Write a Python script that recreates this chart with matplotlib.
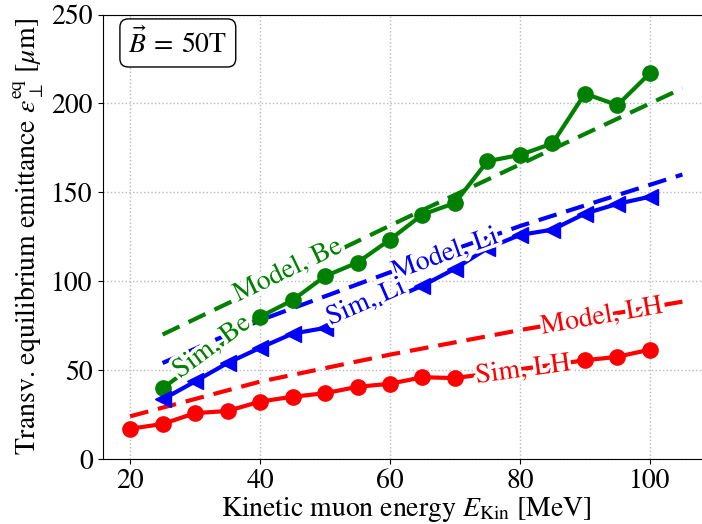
import numpy as np
import matplotlib
matplotlib.use("Agg")
import matplotlib.pyplot as plt
import matplotlib.patheffects as pe

plt.rcParams['font.family'] = 'STIXGeneral'
plt.rcParams['mathtext.fontset'] = 'stix'
plt.rcParams['font.size'] = 20

# Simulation, LH
e_lh = [20, 25, 30, 35, 40, 45, 50, 55, 60, 65, 70, 90, 95, 100]
sim_lh = [17, 19.7, 25.8, 27, 32.3, 35, 37, 40.6, 42.3, 46, 45.5, 55.5, 57.5, 61.5]
# Simulation, Li
e_li = [25, 30, 35, 40, 45, 50, 65, 70, 75, 80, 85, 90, 95, 100]
sim_li = [33.5, 43.6, 54, 62.5, 70.5, 73.7, 97.5, 107, 118.5, 126, 129, 138, 143.5, 147.5]
# Simulation, Be
e_be = [25, 40, 45, 50, 55, 60, 65, 70, 75, 80, 85, 90, 95, 100]
sim_be = [39.8, 80, 89.3, 102.8, 110.5, 123.4, 137.5, 144, 167.5, 171, 177.5, 205.5, 199, 217]

# Model curves
e_mod_lh = [20, 40, 60, 80, 105]
mod_lh = [24, 43.5, 58.7, 72.5, 88.5]
e_mod_li = [25, 40, 60, 80, 105]
mod_li = [54, 78, 105, 131, 160]
e_mod_be = [25, 65, 105]
mod_be = [70, 140, 208.5]

fig = plt.figure(figsize=(7.02, 5.24), dpi=100)
ax = fig.add_axes([102.5 / 702, 65 / 524, 607.5 / 702, 444.5 / 524])

ax.plot(e_mod_be, mod_be, '--', color='green', lw=3, dashes=(4.5, 2.4))
ax.plot(e_mod_li, mod_li, '--', color='blue', lw=3, dashes=(4.5, 2.4))
ax.plot(e_mod_lh, mod_lh, '--', color='red', lw=3, dashes=(4.5, 2.4))
ax.plot(e_be, sim_be, '-o', color='green', lw=3, ms=11)
ax.plot(e_li, sim_li, '-<', color='blue', lw=3, ms=11)
ax.plot(e_lh, sim_lh, '-o', color='red', lw=3, ms=11)

ax.set_xlim(15.75, 109.25)
ax.set_ylim(0, 250)
ax.set_xticks([20, 40, 60, 80, 100])
ax.set_yticks([0, 50, 100, 150, 200, 250])
ax.grid(True, linestyle=':', color='#b8b8b8', lw=1)
ax.set_axisbelow(True)
ax.set_xlabel(r'Kinetic muon energy $E_{\rm Kin}$ [MeV]', labelpad=1)
ax.set_ylabel(r'Transv. equilibrium emittance $\varepsilon_{\perp}^{\rm eq}$ [$\mu$m]', labelpad=4)


def line_label(xs, ys, x, y, text, color):
    # Drehwinkel aus der lokalen Steigung der Linie
    p1 = ax.transData.transform((x - 2, np.interp(x - 2, xs, ys)))
    p2 = ax.transData.transform((x + 2, np.interp(x + 2, xs, ys)))
    ang = np.degrees(np.arctan2(p2[1] - p1[1], p2[0] - p1[0]))
    ax.text(x, y, text, color=color, rotation=ang, rotation_mode='anchor',
            ha='center', va='center', fontsize=20, zorder=5,
            path_effects=[pe.withStroke(linewidth=5, foreground='white')])


line_label(e_mod_be, mod_be, 44.3, 106, 'Model, Be', 'green')
line_label(e_be, sim_be, 32.6, 63, 'Sim, Be', 'green')
line_label(e_mod_li, mod_li, 68.5, 115, 'Model, Li', 'blue')
line_label(e_li, sim_li, 56.3, 88, 'Sim, Li', 'blue')
line_label(e_mod_lh, mod_lh, 92.6, 80, 'Model, LH', 'red')
line_label(e_lh, sim_lh, 80.5, 50, 'Sim, LH', 'red')

ax.text(0.124, 0.936, r'$\vec{B}\:=\:50$T', transform=ax.transAxes, ha='center', va='center',
        fontsize=20, bbox=dict(boxstyle='round,pad=0.3', fc='white', ec='black', lw=1))

fig.savefig('out.png', dpi=100)
